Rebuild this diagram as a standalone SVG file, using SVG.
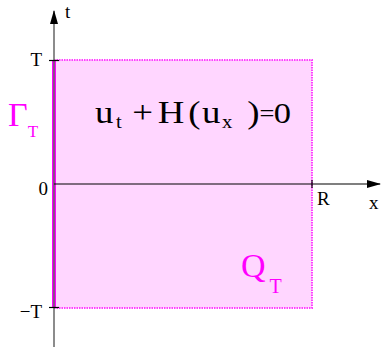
<svg xmlns="http://www.w3.org/2000/svg" width="381" height="347" viewBox="0 0 381 347">
<defs>
<style>
text{font-family:'Liberation Serif','DejaVu Serif',serif}
.lbl{fill:#000}
.mag{fill:#ff00ff}
.sub{font-size:18px}
</style>
<marker id="ah" markerWidth="14" markerHeight="10" refX="13" refY="5" orient="auto" markerUnits="userSpaceOnUse">
<path d="M0,1 L14,5 L0,9 Z" fill="#000"/>
</marker>
</defs>
<g id="region">
<rect x="54" y="60" width="258" height="248" fill="#ffd6ff" stroke="#ff40ff" stroke-width="2" stroke-dasharray="1.5,1"/>
<line x1="54" y1="60" x2="54" y2="308" stroke="#ff00ff" stroke-width="4"/>
</g>
<g id="connectors">
<line x1="54" y1="347" x2="54" y2="11" stroke="#666" stroke-width="1.5" marker-end="url(#ah)"/>
<line x1="54" y1="184" x2="380" y2="184" stroke="#000" stroke-width="1.2" marker-end="url(#ah)"/>
<line x1="49" y1="60.5" x2="59" y2="60.5" stroke="#000" stroke-width="1.2"/>
<line x1="49" y1="307.5" x2="59" y2="307.5" stroke="#000" stroke-width="1.2"/>
<line x1="312" y1="180" x2="312" y2="188" stroke="#000" stroke-width="1.2"/>
</g>
<g id="labels">
<text class="lbl" x="65" y="18" font-size="19">t</text>
<text class="lbl" x="42" y="66" font-size="19" text-anchor="end">T</text>
<text class="lbl" x="48" y="195" font-size="19" text-anchor="end">0</text>
<text class="lbl" x="42" y="318" font-size="19" text-anchor="end">−T</text>
<text class="lbl" x="317" y="205" font-size="19">R</text>
<text class="lbl" x="369" y="209" font-size="19">x</text>
</g>
<g id="gamma">
<text class="mag" x="8" y="126" font-size="34">Γ<tspan font-size="17" dy="11">T</tspan></text>
</g>
<g id="equation" transform="translate(95,0) scale(1.15,1)">
<text class="lbl" y="123" font-size="32"><tspan x="0">u</tspan><tspan class="sub" x="18.3" y="128">t</tspan><tspan x="32.5" y="123">+</tspan><tspan x="54.5">H</tspan><tspan x="81">(</tspan><tspan x="93">u</tspan><tspan class="sub" x="110.4" y="128">x</tspan><tspan x="132.5" y="123">)</tspan><tspan x="143" font-size="23" y="121">=</tspan><tspan x="155.5" font-size="30" y="123">0</tspan></text>
</g>
<g id="qt">
<text class="mag" x="241" y="277" font-size="34">Q<tspan font-size="20" dy="16" dx="4">T</tspan></text>
</g>
</svg>
